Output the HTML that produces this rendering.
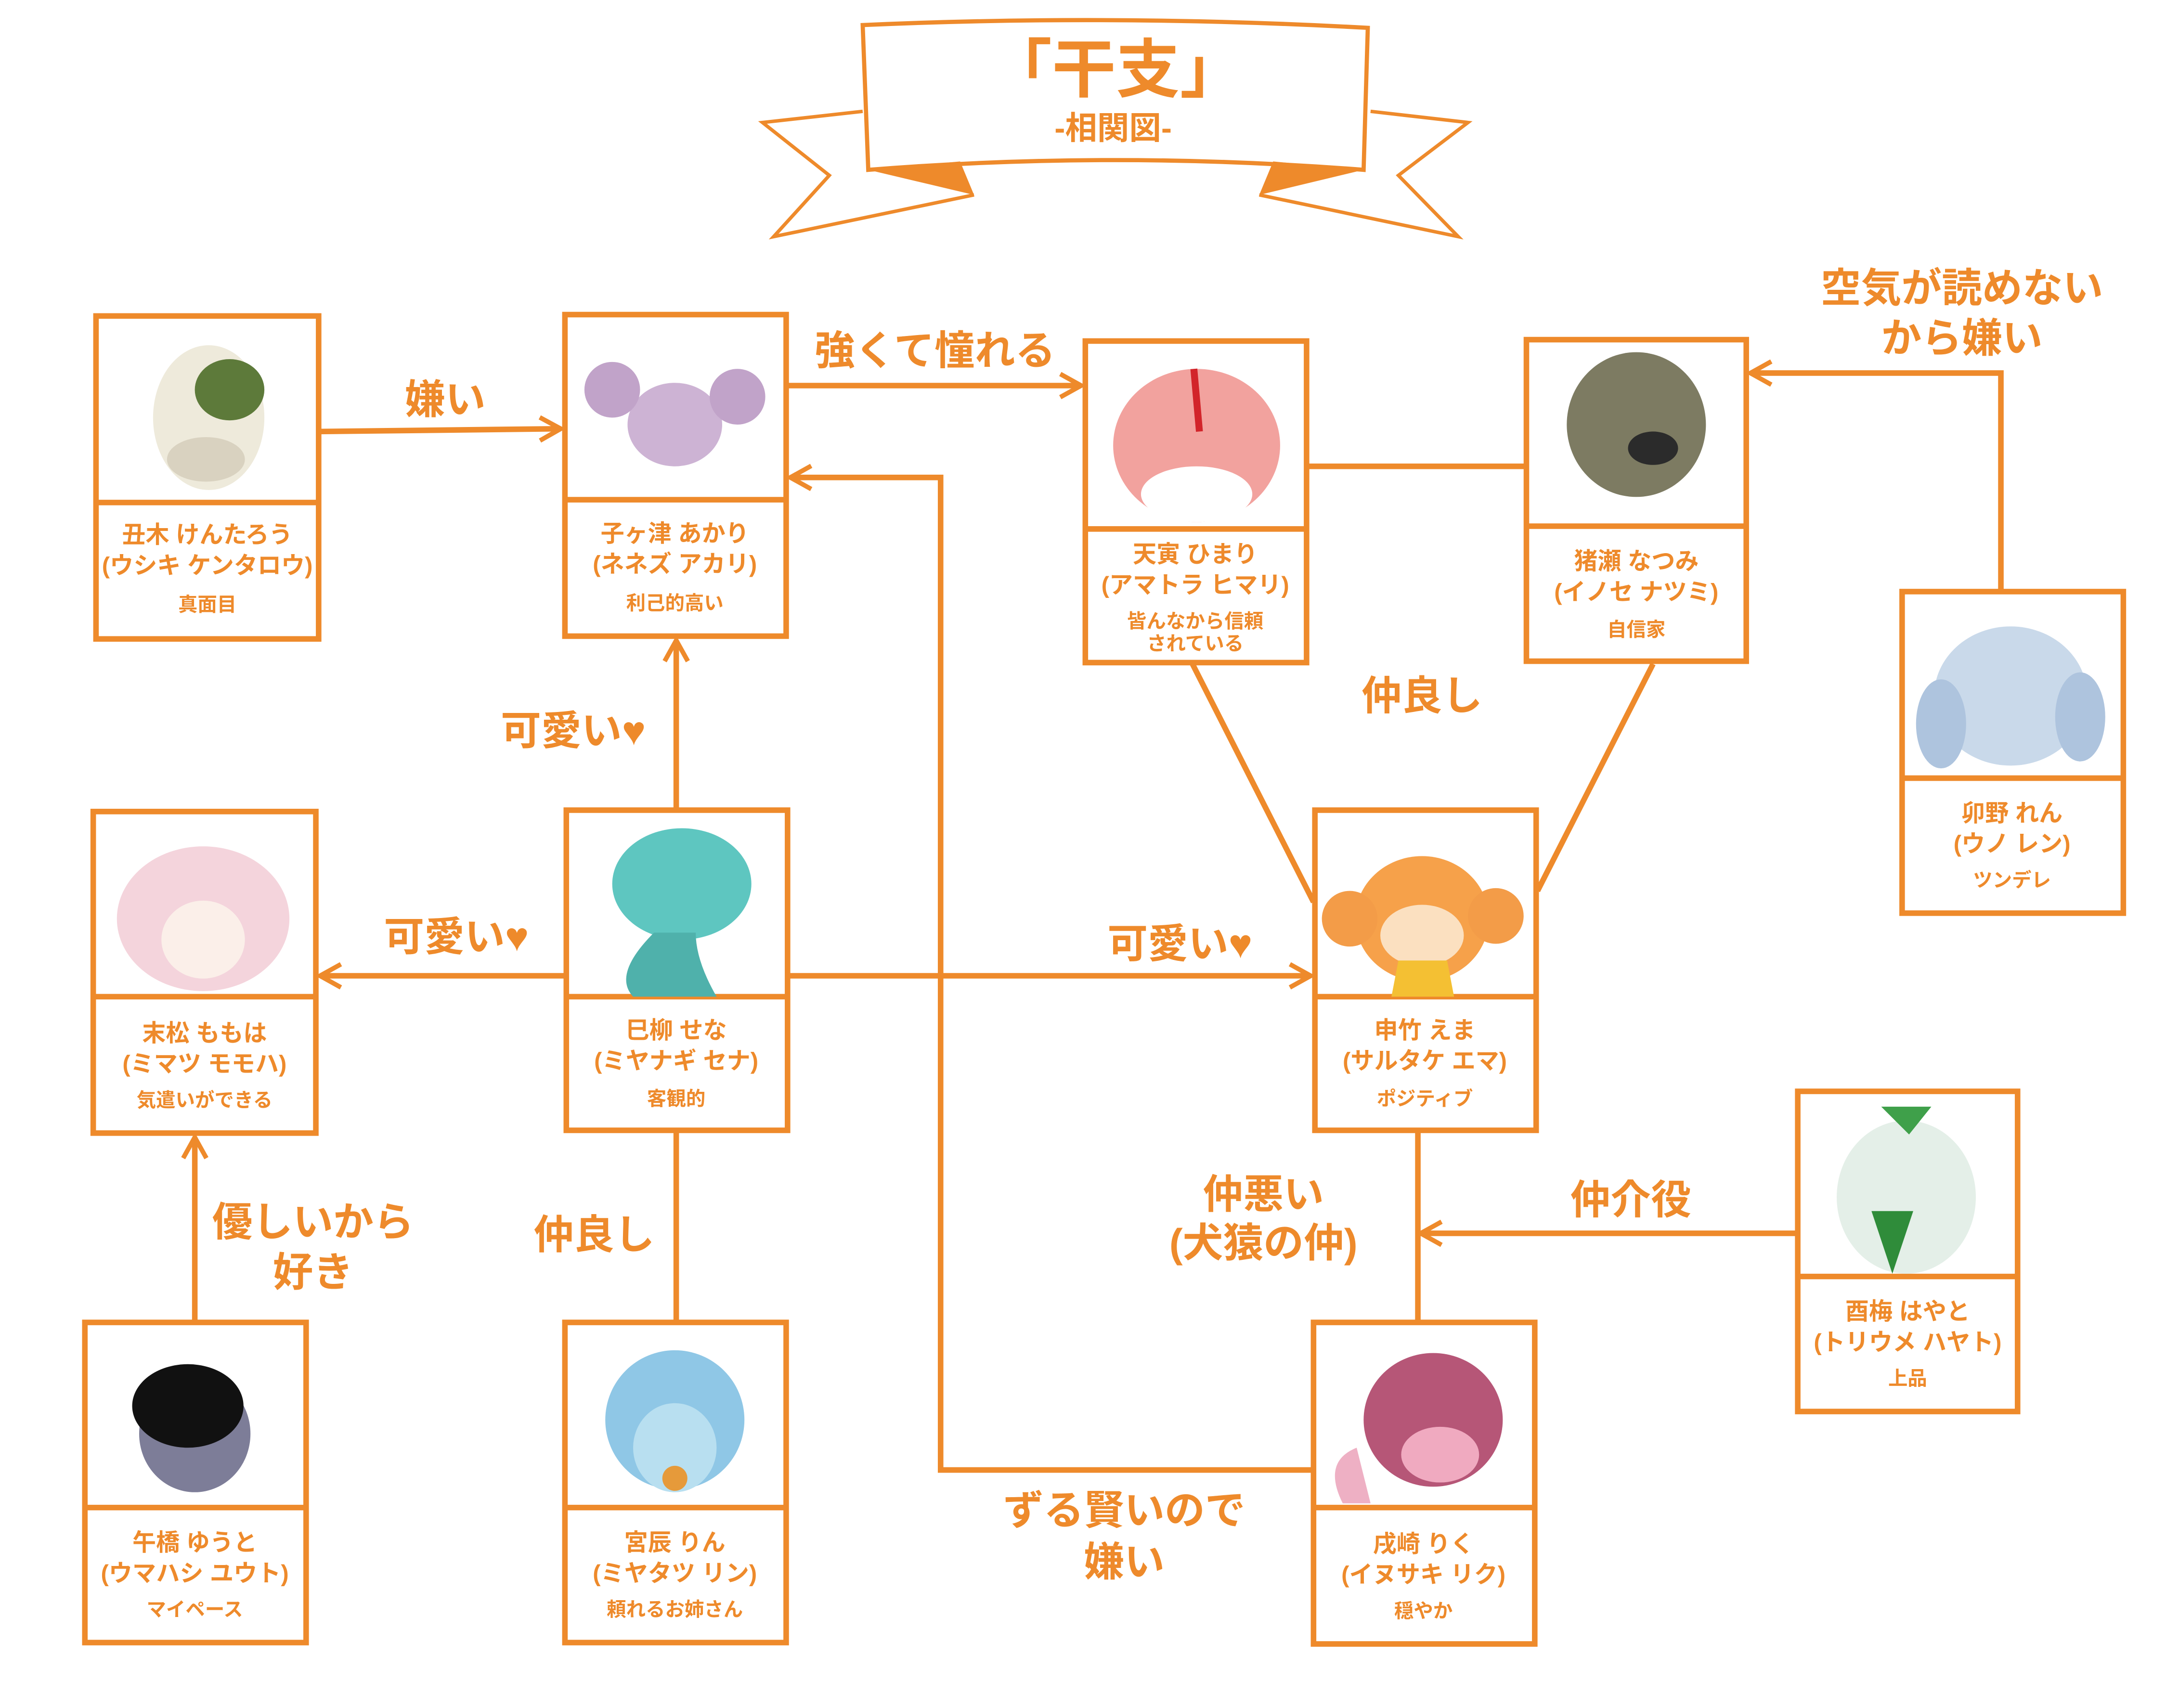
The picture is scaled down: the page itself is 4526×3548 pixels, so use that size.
<!DOCTYPE html>
<html><head><meta charset="utf-8"><style>
html,body{margin:0;padding:0;background:#fff;}
svg{display:block;}
text{font-family:"Liberation Sans","Noto Sans CJK JP",sans-serif;fill:#EE8A2B;font-weight:bold;text-anchor:middle;}
.l{font-size:29px;}
.n{font-size:17px;}
.s{font-size:14px;}
</style></head><body>
<svg width="4526" height="3548" viewBox="0 0 1566 1227" preserveAspectRatio="none" xmlns="http://www.w3.org/2000/svg">
<defs><marker id="a" viewBox="0 0 12 12" refX="10" refY="6" markerWidth="5" markerHeight="5" orient="auto" markerUnits="strokeWidth"><path d="M1,1 L10,6 L1,11" fill="none" stroke="#EE8A2B" stroke-width="2"/></marker></defs>
<g fill="none" stroke="#EE8A2B" stroke-width="4">
<path d="M620,80 L548,88 L596,126 L556,170 L700,140" stroke-width="2.5"/>
<path d="M985,80 L1055,88 L1005,126 L1048,170 L905,140" stroke-width="2.5"/>
<path d="M620,18 Q800,10 983,20 L980,122 Q800,108 624,122 Z" fill="#fff" stroke-width="3"/>
<path d="M624,122 L700,140 L690,116 Z" fill="#EE8A2B" stroke="none"/>
<path d="M980,122 L905,140 L915,116 Z" fill="#EE8A2B" stroke="none"/>
<path d="M230,310 L403,308" marker-end="url(#a)"/>
<path d="M566,277 L777,277" marker-end="url(#a)"/>
<path d="M940,335 L1096,335"/>
<path d="M1438,424 L1438,268 L1258,268" marker-end="url(#a)"/>
<path d="M857,477 L944,648"/>
<path d="M1188,477 L1105,640"/>
<path d="M486,581 L486,460" marker-end="url(#a)"/>
<path d="M406,701 L230,701" marker-end="url(#a)"/>
<path d="M567,701 L942,701" marker-end="url(#a)"/>
<path d="M943,1056 L676,1056 L676,343 L568,343" marker-end="url(#a)"/>
<path d="M140,949 L140,817" marker-end="url(#a)"/>
<path d="M486,813 L486,949"/>
<path d="M1019,813 L1019,949"/>
<path d="M1291,886 L1021,886" marker-end="url(#a)"/>
</g>
<text x="802" y="66" style="font-size:46px">「干支」</text>
<text x="800" y="100" style="font-size:23px">-相関図-</text>
<text class="l" x="320" y="297">嫌い</text>
<text class="l" x="672" y="262">強くて憧れる</text>
<text class="l" x="1410" y="217">空気が読めない</text>
<text class="l" x="1410" y="253">から嫌い</text>
<text class="l" x="1022" y="510">仲良し</text>
<text class="l" x="412" y="535">可愛い♥</text>
<text class="l" x="328" y="683">可愛い♥</text>
<text class="l" x="848" y="688">可愛い♥</text>
<text class="l" x="808" y="1095">ずる賢いので</text>
<text class="l" x="808" y="1132">嫌い</text>
<text class="l" x="225" y="888">優しいから</text>
<text class="l" x="225" y="924">好き</text>
<text class="l" x="427" y="897">仲良し</text>
<text class="l" x="908" y="868">仲悪い</text>
<text class="l" x="908" y="903">(犬猿の仲)</text>
<text class="l" x="1172" y="872">仲介役</text>
<g stroke="#EE8A2B" stroke-width="4">
<rect x="69" y="227" width="160" height="232" fill="#fff"/><line x1="69" y1="361" x2="229" y2="361"/>
<rect x="406" y="226" width="159" height="231" fill="#fff"/><line x1="406" y1="359" x2="565" y2="359"/>
<rect x="780" y="245" width="159" height="231" fill="#fff"/><line x1="780" y1="380" x2="939" y2="380"/>
<rect x="1097" y="244" width="158" height="231" fill="#fff"/><line x1="1097" y1="378" x2="1255" y2="378"/>
<rect x="1367" y="425" width="159" height="231" fill="#fff"/><line x1="1367" y1="559" x2="1526" y2="559"/>
<rect x="67" y="583" width="160" height="231" fill="#fff"/><line x1="67" y1="716" x2="227" y2="716"/>
<rect x="407" y="582" width="159" height="230" fill="#fff"/><line x1="407" y1="716" x2="566" y2="716"/>
<rect x="945" y="582" width="159" height="230" fill="#fff"/><line x1="945" y1="716" x2="1104" y2="716"/>
<rect x="1292" y="784" width="158" height="230" fill="#fff"/><line x1="1292" y1="917" x2="1450" y2="917"/>
<rect x="61" y="950" width="159" height="230" fill="#fff"/><line x1="61" y1="1083" x2="220" y2="1083"/>
<rect x="406" y="950" width="159" height="230" fill="#fff"/><line x1="406" y1="1083" x2="565" y2="1083"/>
<rect x="944" y="950" width="159" height="231" fill="#fff"/><line x1="944" y1="1083" x2="1103" y2="1083"/>
</g>
<g stroke="none">
<ellipse cx="150" cy="300" rx="40" ry="52" fill="#eeeadb"/><ellipse cx="165" cy="280" rx="25" ry="22" fill="#5d7a3a"/><ellipse cx="148" cy="330" rx="28" ry="16" fill="#d9d2c0"/>
<ellipse cx="485" cy="305" rx="34" ry="30" fill="#cdb3d4"/><circle cx="440" cy="280" r="20" fill="#c1a3c9"/><circle cx="530" cy="285" r="20" fill="#c1a3c9"/>
<ellipse cx="860" cy="320" rx="60" ry="55" fill="#f2a29e"/><ellipse cx="860" cy="355" rx="40" ry="20" fill="#fff"/><path d="M858,265 L862,310" stroke="#d2242a" stroke-width="5"/>
<ellipse cx="1176" cy="305" rx="50" ry="52" fill="#7d7b62"/><ellipse cx="1188" cy="322" rx="18" ry="12" fill="#2b2b2b"/>
<ellipse cx="1445" cy="500" rx="55" ry="50" fill="#c9d9ea"/><ellipse cx="1395" cy="520" rx="18" ry="32" fill="#aec4de"/><ellipse cx="1495" cy="515" rx="18" ry="32" fill="#aec4de"/>
<ellipse cx="146" cy="660" rx="62" ry="52" fill="#f4d4dc"/><ellipse cx="146" cy="675" rx="30" ry="28" fill="#fbefe9"/>
<ellipse cx="490" cy="635" rx="50" ry="40" fill="#5ec6c0"/><path d="M470,670 Q440,700 455,716 L515,716 Q500,690 500,670 Z" fill="#4fb1ab"/>
<ellipse cx="1022" cy="660" rx="48" ry="45" fill="#f6a14a"/><circle cx="970" cy="660" r="20" fill="#f39c48"/><circle cx="1075" cy="658" r="20" fill="#f39c48"/><ellipse cx="1022" cy="672" rx="30" ry="22" fill="#fbe0c0"/><path d="M1005,690 L1040,690 L1045,716 L1000,716 Z" fill="#f4c033"/>
<ellipse cx="1370" cy="860" rx="50" ry="55" fill="#e4efe8"/><path d="M1345,870 L1360,915 L1375,870 Z" fill="#2f8c3a"/><path d="M1352,795 L1372,815 L1388,795 Z" fill="#3fa04a"/>
<ellipse cx="140" cy="1030" rx="40" ry="42" fill="#7d7d98"/><ellipse cx="135" cy="1010" rx="40" ry="30" fill="#111"/>
<ellipse cx="485" cy="1020" rx="50" ry="50" fill="#8fc7e6"/><ellipse cx="485" cy="1040" rx="30" ry="32" fill="#b8dff0"/><circle cx="485" cy="1062" r="9" fill="#e69a3a"/>
<ellipse cx="1030" cy="1020" rx="50" ry="48" fill="#b65677"/><ellipse cx="1035" cy="1045" rx="28" ry="20" fill="#f0aac0"/><path d="M965,1080 Q950,1050 975,1040 L985,1080 Z" fill="#eeb0c4"/>
</g>
<text class="n" x="149" y="390">丑木 けんたろう</text><text class="n" x="149" y="412">(ウシキ ケンタロウ)</text><text class="s" x="149" y="439">真面目</text>
<text class="n" x="485" y="389">子ヶ津 あかり</text><text class="n" x="485" y="411">(ネネズ アカリ)</text><text class="s" x="485" y="438">利己的高い</text>
<text class="n" x="859" y="404">天寅 ひまり</text><text class="n" x="859" y="426">(アマトラ ヒマリ)</text><text class="s" x="859" y="451">皆んなから信頼</text><text class="s" x="859" y="467">されている</text>
<text class="n" x="1176" y="409">猪瀬 なつみ</text><text class="n" x="1176" y="431">(イノセ ナツミ)</text><text class="s" x="1176" y="457">自信家</text>
<text class="n" x="1446" y="590">卯野 れん</text><text class="n" x="1446" y="612">(ウノ レン)</text><text class="s" x="1446" y="637">ツンデレ</text>
<text class="n" x="147" y="748">末松 ももは</text><text class="n" x="147" y="770">(ミマツ モモハ)</text><text class="s" x="147" y="795">気遣いができる</text>
<text class="n" x="486" y="746">巳柳 せな</text><text class="n" x="486" y="768">(ミヤナギ セナ)</text><text class="s" x="486" y="794">客観的</text>
<text class="n" x="1024" y="746">申竹 えま</text><text class="n" x="1024" y="768">(サルタケ エマ)</text><text class="s" x="1024" y="794">ポジティブ</text>
<text class="n" x="1371" y="948">酉梅 はやと</text><text class="n" x="1371" y="970">(トリウメ ハヤト)</text><text class="s" x="1371" y="995">上品</text>
<text class="n" x="140" y="1114">午橋 ゆうと</text><text class="n" x="140" y="1136">(ウマハシ ユウト)</text><text class="s" x="140" y="1161">マイペース</text>
<text class="n" x="485" y="1114">宮辰 りん</text><text class="n" x="485" y="1136">(ミヤタツ リン)</text><text class="s" x="485" y="1161">頼れるお姉さん</text>
<text class="n" x="1023" y="1115">戌崎 りく</text><text class="n" x="1023" y="1137">(イヌサキ リク)</text><text class="s" x="1023" y="1162">穏やか</text>
</svg>
</body></html>
